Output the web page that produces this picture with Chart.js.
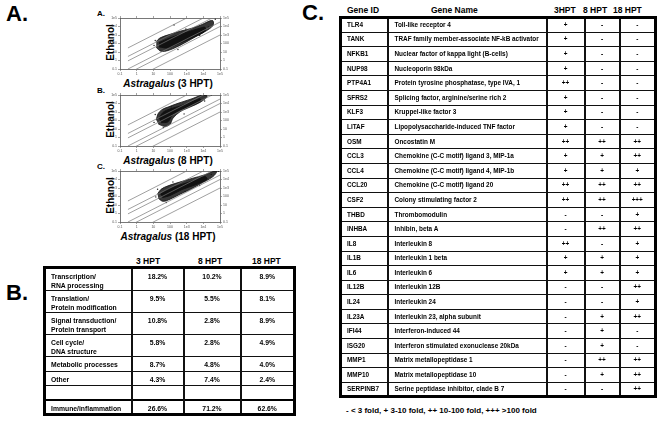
<!DOCTYPE html>
<html>
<head>
<title>Astragalus vs Ethanol expression</title>
<script src="https://cdn.jsdelivr.net/npm/chart.js"></script>
<style>
  body { margin: 0; width: 662px; height: 427px; position: relative; background: #fff; overflow: hidden;
         font-family: 'Liberation Sans', Arial, sans-serif; font-weight: bold; color: #000; }
  .abs { position: absolute; white-space: nowrap; }
  .big { font-size: 22px; line-height: 22px; }
  .small { font-size: 8px; line-height: 8px; }
  .eth { font-size: 10px; width: 60px; text-align: center; transform: rotate(-90deg); line-height: 11px; }
  .xt { font-size: 10px; width: 130px; text-align: center; line-height: 11px; }
  canvas { position: absolute; }
  table { position: absolute; border-collapse: collapse; table-layout: fixed; border: 3px solid #000;
          will-change: transform; }
  td { border-style: solid; border-color: #111; border-width: 1px 2px; padding: 0; overflow: hidden;
       white-space: nowrap; color: #000; }
  #tableB td { font-size: 6.8px; line-height: 9px; vertical-align: top; padding-top: 3px; text-align: center; }
  #tableB td.cat { text-align: left; padding-left: 5px; }
  #tableB td.imm { border-top: 2px solid #000; }
  #tableC td { font-size: 6.4px; line-height: 8px; text-align: center; }
  #tableC td.gid { text-align: left; padding-left: 5px; }
  #tableC td.gname { text-align: left; padding-left: 6px; }
  .hdr { font-size: 8.5px; line-height: 9px; }
</style>
</head>
<body>
<div class="abs big" style="left:6px; top:3px;">A.</div>
<div class="abs big" style="left:6px; top:282px;">B.</div>
<div class="abs big" style="left:302px; top:2px;">C.</div>
<div id="scatters"></div>

<div class="abs hdr" style="left:136px; top:257px;">3 HPT</div>
<div class="abs hdr" style="left:198px; top:257px;">8 HPT</div>
<div class="abs hdr" style="left:252px; top:257px;">18 HPT</div>
<table id="tableB" style="left:43px; top:266px; width:250px;">
  <colgroup><col style="width:87px"><col style="width:52px"><col style="width:57px"><col style="width:54px"></colgroup>
  <tbody></tbody>
</table>

<div class="abs hdr" style="left:347px; top:6px;">Gene ID</div>
<div class="abs hdr" style="left:431px; top:6px;">Gene Name</div>
<div class="abs hdr" style="left:554px; top:6px;">3HPT</div>
<div class="abs hdr" style="left:583px; top:6px;">8 HPT</div>
<div class="abs hdr" style="left:613px; top:6px;">18 HPT</div>
<table id="tableC" style="left:339px; top:16px; width:315px;">
  <colgroup><col style="width:47px"><col style="width:159px"><col style="width:38px"><col style="width:35px"><col style="width:36px"></colgroup>
  <tbody></tbody>
</table>
<div class="abs" style="left:346px; top:406px; font-size:8px;">- &lt; 3 fold, + 3-10 fold, ++ 10-100 fold, +++ &gt;100 fold</div>

<script>
  // scatter panels: fold-change guide lines and the point cloud outlines
  var panelTimes = ['3 HPT', '8 HPT', '18 HPT'];
  var foldLevels = [100, 10, 3, 1 / 3, 0.1, 0.01];
  var lineX = [0.3, 100000];
  var axisTicks = [0.1, 1, 10, 100, 1000, 10000, 100000];
  var axisTickLabels = ['0.1', '1', '10', '100', '1e3', '1e4', '1e5'];

  var cloudOuterX_3 = [15, 25, 100, 457, 2090, 8320, 25100, 38000, 38000, 14500, 3630, 912, 229, 76, 29, 15];
  var cloudOuterY_3 = [170, 450, 1200, 2950, 6310, 17000, 46800, 46800, 13500, 2950, 661, 145, 36, 15, 12, 35];
  var cloudCoreX_3 = [22, 100, 794, 6310, 12600, 12600, 3160, 398, 76, 22];
  var cloudCoreY_3 = [130, 450, 1780, 6310, 8130, 2950, 661, 112, 30, 40];
  var dotsX_3 = [11, 13, 175, 900, 6000, 20000, 52000, 300];
  var dotsY_3 = [60, 230, 15300, 5000, 900, 9000, 70000, 20];

  var cloudOuterX_8 = [15, 19, 33, 76, 302, 2090, 8320, 14500, 16600, 6310, 1580, 398, 151, 100, 50, 20];
  var cloudOuterY_8 = [112, 600, 1900, 3800, 10500, 36300, 100000, 100000, 60300, 13500, 3800, 1070, 186, 36, 20, 38];
  var cloudCoreX_8 = [22, 38, 100, 398, 3160, 6310, 6310, 2090, 398, 132, 76, 30];
  var cloudCoreY_8 = [186, 900, 2290, 4900, 21900, 36300, 17000, 6310, 1780, 398, 70, 55];
  var dotsX_8 = [11, 13, 120, 700, 3000, 12000, 30000, 40];
  var dotsY_8 = [60, 500, 4000, 600, 12000, 20000, 90000, 15];

  var cloudOuterX_18 = [18, 29, 76, 302, 2090, 12600, 43700, 66000, 38000, 6310, 1580, 398, 100, 38, 20];
  var cloudOuterY_18 = [200, 700, 1780, 4300, 13500, 36300, 100000, 100000, 21900, 2950, 661, 186, 48, 27, 60];
  var cloudCoreX_18 = [27, 76, 398, 3160, 12600, 16600, 3160, 525, 100, 35];
  var cloudCoreY_18 = [186, 700, 2290, 8130, 21900, 10500, 2290, 661, 130, 75];
  var dotsX_18 = [14, 18, 150, 800, 6000, 30000, 80000, 60];
  var dotsY_18 = [90, 700, 5000, 400, 2000, 40000, 90000, 20];

  var clouds = [
    [cloudOuterX_3, cloudOuterY_3, cloudCoreX_3, cloudCoreY_3, dotsX_3, dotsY_3],
    [cloudOuterX_8, cloudOuterY_8, cloudCoreX_8, cloudCoreY_8, dotsX_8, dotsY_8],
    [cloudOuterX_18, cloudOuterY_18, cloudCoreX_18, cloudCoreY_18, dotsX_18, dotsY_18]
  ];

  // table B: functional categories
  var categoriesB = ['Transcription/\nRNA processing', 'Translation/\nProtein modification',
    'Signal transduction/\nProtein transport', 'Cell cycle/\nDNA structure',
    'Metabolic processes', 'Other', '', 'Immune/inflammation'];
  var pct3 = ['18.2%', '9.5%', '10.8%', '5.8%', '8.7%', '4.3%', '', '26.6%'];
  var pct8 = ['10.2%', '5.5%', '2.8%', '2.8%', '4.8%', '7.4%', '', '71.2%'];
  var pct18 = ['8.9%', '8.1%', '8.9%', '4.9%', '4.0%', '2.4%', '', '62.6%'];

  // table C: genes
  var geneIds = ['TLR4', 'TANK', 'NFKB1', 'NUP98', 'PTP4A1', 'SFRS2', 'KLF3', 'LITAF', 'OSM', 'CCL3', 'CCL4',
    'CCL20', 'CSF2', 'THBD', 'INHBA', 'IL8', 'IL1B', 'IL6', 'IL12B', 'IL24', 'IL23A', 'IFI44', 'ISG20',
    'MMP1', 'MMP10', 'SERPINB7'];
  var geneNames = ['Toll-like receptor 4', 'TRAF family member-associate NF-kB activator',
    'Nuclear factor of kappa light (B-cells)', 'Nucleoporin 98kDa', 'Protein tyrosine phosphatase, type IVA, 1',
    'Splicing factor, arginine/serine rich 2', 'Kruppel-like factor 3', 'Lipopolysaccharide-induced TNF factor',
    'Oncostatin M', 'Chemokine (C-C motif) ligand 3, MIP-1a', 'Chemokine (C-C motif) ligand 4, MIP-1b',
    'Chemokine (C-C motif) ligand 20', 'Colony stimulating factor 2', 'Thrombomodulin', 'Inhibin, beta A',
    'Interleukin 8', 'Interleukin 1 beta', 'Interleukin 6', 'Interleukin 12B', 'Interleukin 24',
    'Interleukin 23, alpha subunit', 'Interferon-induced 44', 'Interferon stimulated exonuclease 20kDa',
    'Matrix metallopeptidase 1', 'Matrix metallopeptidase 10', 'Serine peptidase inhibitor, clade B 7'];
  var fold3 = ['+', '+', '+', '+', '++', '+', '+', '+', '++', '+', '+', '++', '++', '-', '-', '++', '+', '+', '-', '-', '-', '-', '-', '-', '-', '-'];
  var fold8 = ['-', '-', '-', '-', '-', '-', '-', '-', '++', '+', '+', '++', '++', '-', '++', '-', '+', '+', '-', '-', '+', '+', '+', '++', '+', '-'];
  var fold18 = ['-', '-', '-', '-', '-', '-', '-', '-', '++', '++', '+', '++', '+++', '+', '++', '+', '+', '+', '++', '+', '++', '-', '-', '++', '++', '++'];

  // layout
  var panelTops = [15, 92, 168];
  var boxH = 55;

  function pts(xs, ys) {
    return xs.map(function (x, i) { return {x: x, y: ys[i]}; });
  }

  function logAxis(pos, showLabels, size) {
    return {
      type: 'logarithmic',
      position: pos,
      min: 0.1,
      max: 100000,
      afterBuildTicks: function (s) {
        s.ticks = axisTicks.map(function (v) { return {value: v}; });
      },
      afterFit: function (s) {
        if (s.isHorizontal()) s.height = size; else s.width = size;
      },
      grid: {drawOnChartArea: false, drawTicks: true, tickLength: 2, color: '#666', lineWidth: 0.6},
      border: {display: true, color: '#555', width: 0.8},
      ticks: {
        display: showLabels, color: '#555', padding: 1, maxRotation: 0, autoSkip: false,
        font: {size: 3.5, family: 'Liberation Sans'},
        callback: function (v, i) { return axisTickLabels[i]; }
      }
    };
  }

  var holder = document.getElementById('scatters');
  panelTops.forEach(function (top, p) {
    var lab = document.createElement('div');
    lab.className = 'abs small';
    lab.style.left = '97px';
    lab.style.top = (top - 5) + 'px';
    lab.textContent = ['A.', 'B.', 'C.'][p];
    holder.appendChild(lab);

    var eth = document.createElement('div');
    eth.className = 'abs eth';
    eth.style.left = (110 - 30) + 'px';
    eth.style.top = (top + boxH / 2 - 6) + 'px';
    eth.textContent = 'Ethanol';
    holder.appendChild(eth);

    var xt = document.createElement('div');
    xt.className = 'abs xt';
    xt.style.left = '103px';
    xt.style.top = (top + boxH + 8) + 'px';
    xt.innerHTML = '<i>Astragalus</i> (' + panelTimes[p] + ')';
    holder.appendChild(xt);

    var cv = document.createElement('canvas');
    cv.width = 132;
    cv.height = boxH + 9;
    cv.style.left = '100px';
    cv.style.top = (top - 1) + 'px';
    holder.appendChild(cv);

    var c = clouds[p];
    var datasets = foldLevels.map(function (f) {
      return {
        data: lineX.map(function (x) { return {x: x, y: x * f}; }),
        borderColor: '#777', borderWidth: 0.7, pointRadius: 0, fill: false
      };
    });
    datasets.push({data: pts(c[0], c[1]), borderColor: 'rgba(20,20,20,0.8)', backgroundColor: 'rgba(20,20,20,0.85)',
      borderWidth: 1, pointRadius: 0, fill: 'shape', tension: 0.35});
    datasets.push({data: pts(c[2], c[3]), borderColor: '#000', backgroundColor: '#000',
      borderWidth: 1, pointRadius: 0, fill: 'shape', tension: 0.35});
    datasets.push({data: pts(c[4], c[5]), showLine: false, pointRadius: 0.7, pointBorderWidth: 0,
      pointBackgroundColor: '#222', fill: false});

    new Chart(cv.getContext('2d'), {
      type: 'line',
      data: {datasets: datasets},
      options: {
        responsive: false,
        animation: false,
        devicePixelRatio: 1,
        layout: {padding: {top: 1, left: 0, right: 0, bottom: 0}},
        plugins: {legend: {display: false}, tooltip: {enabled: false}},
        scales: {
          x: logAxis('bottom', true, 9),
          x2: logAxis('top', false, 0),
          y: logAxis('left', true, 20),
          y2: logAxis('right', true, 12)
        }
      }
    });
  });

  // build table B
  var bBody = document.querySelector('#tableB tbody');
  categoriesB.forEach(function (cat, i) {
    var tr = bBody.insertRow();
    tr.style.height = (cat.indexOf('\n') >= 0 ? 20 : 14.5) + 'px';
    [cat, pct3[i], pct8[i], pct18[i]].forEach(function (v, j) {
      var td = tr.insertCell();
      td.innerHTML = v.replace('\n', '<br>');
      if (j === 0) td.className = 'cat';
      if (i === categoriesB.length - 1) td.className += ' imm';
    });
  });

  // build table C
  var cBody = document.querySelector('#tableC tbody');
  geneIds.forEach(function (g, i) {
    var tr = cBody.insertRow();
    tr.style.height = '14.6px';
    [g, geneNames[i], fold3[i], fold8[i], fold18[i]].forEach(function (v, j) {
      var td = tr.insertCell();
      td.textContent = v;
      if (j === 0) td.className = 'gid';
      if (j === 1) td.className = 'gname';
    });
  });
</script>
</body>
</html>
